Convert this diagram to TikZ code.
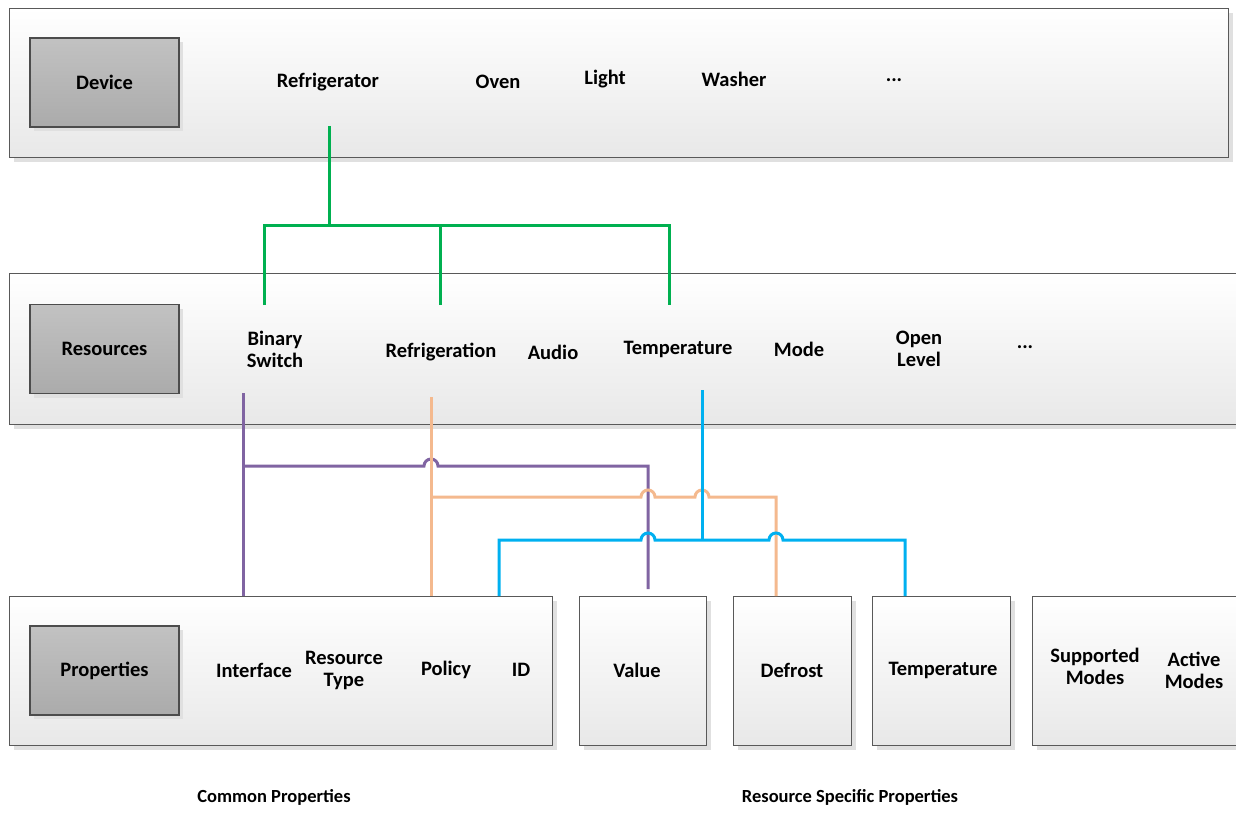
\documentclass[tikz,border=0pt]{standalone}
\usepackage{fontspec}
\setmainfont{Carlito}
\usetikzlibrary{shadows}
\definecolor{grn}{HTML}{00B050}
\definecolor{purp}{HTML}{8064A2}
\definecolor{peach}{HTML}{F4B98E}
\definecolor{sky}{HTML}{00B0F0}
\begin{document}
\begin{tikzpicture}
[x=1pt,y=-1pt,thick,%
  rowbox/.style={draw=black!65,line width=1.2pt,top color=white,bottom color=black!9,inner sep=0pt,anchor=north west,
    drop shadow={shadow xshift=4pt,shadow yshift=-4pt,fill=black!12,opacity=1}},%
  keybox/.style={draw=black!70,line width=1.2pt,top color=black!24,bottom color=black!33,minimum width=149pt,minimum height=89pt,
    drop shadow={shadow xshift=4pt,shadow yshift=-4pt,fill=black!12,opacity=1}},%
  lbl/.style={font=\fontsize{20.5}{22}\selectfont\bfseries,align=center,inner sep=0pt},%
  caption/.style={font=\fontsize{18.5}{22}\selectfont\bfseries,inner sep=0pt},%
  wire/.style={line width=3pt}]
\useasboundingbox (0,0) rectangle (1236,834);
% rows
\node[rowbox,minimum width=1219pt,minimum height=149pt] (devrow) at (9,8) {};
\node[rowbox,minimum width=1240pt,minimum height=151pt] (resrow) at (9,273) {};
\node[rowbox,minimum width=543pt,minimum height=149pt] (proprow) at (9,596) {};
\node[rowbox,minimum width=127pt,minimum height=149pt] (valbox) at (579,596) {};
\node[rowbox,minimum width=118pt,minimum height=149pt] (defbox) at (733,596) {};
\node[rowbox,minimum width=138pt,minimum height=149pt] (tempbox) at (872,596) {};
\node[rowbox,minimum width=220pt,minimum height=149pt] (modebox) at (1032,596) {};
% key boxes
\node[keybox,lbl] (device) at (104.5,82.5) {Device};
\node[keybox,lbl] (resources) at (104.5,349) {Resources};
\node[keybox,lbl] (properties) at (104.5,670.5) {Properties};
% device row
\node[lbl] (fridge) at (328,82) {Refrigerator};
\node[lbl] (oven) at (498,82) {Oven};
\node[lbl] (light) at (605,79) {Light};
\node[lbl] (washer) at (734,79) {Washer};
\node[lbl] (devmore) at (894,80) {...};
% resources row
\node[lbl] (binsw) at (275,349) {Binary\\Switch};
\node[lbl] (refrig) at (441,352) {Refrigeration};
\node[lbl] (audio) at (553,352) {Audio};
\node[lbl] (temp) at (678,349) {Temperature};
\node[lbl] (mode) at (799,349) {Mode};
\node[lbl] (openlvl) at (919,349) {Open\\Level};
\node[lbl] (resmore) at (1025,347) {...};
% properties row
\node[lbl] (iface) at (254,670) {Interface};
\node[lbl] (restype) at (344,670) {Resource\\Type};
\node[lbl] (policy) at (446,670) {Policy};
\node[lbl] (id) at (521,670) {ID};
\node[lbl] (value) at (637,670) {Value};
\node[lbl] (defrost) at (792,670) {Defrost};
\node[lbl] (tempval) at (943,670) {Temperature};
\node[lbl] (suppmodes) at (1095,666) {Supported\\Modes};
\node[lbl] (actmodes) at (1194,670) {Active\\Modes};
\node[caption] (common) at (274,797) {Common Properties};
\node[caption] (specific) at (850,797) {Resource Specific Properties};
% green: device -> resources
\coordinate (gtop) at (329,126);
\coordinate (gbus) at (329,226);
\coordinate (g1) at (264,305);
\coordinate (g2) at (440,305);
\coordinate (g3) at (669,305);
\draw[wire,grn] (gtop) -- (gbus);
\draw[wire,grn] (g1) |- (gbus) -| (g3);
\draw[wire,grn] (g2) -- (g2 |- gbus);
% purple: binary switch -> interface, value
\coordinate (ptop) at (243,393);
\coordinate (pbus) at (243,466);
\coordinate (pend) at (648,589);
\draw[wire,purp] (ptop) -- (ptop |- proprow.north);
\draw[wire,purp] (pbus) -- (424,466) arc[start angle=180,end angle=0,radius=7pt] -- (pend |- pbus) -- (pend);
% peach: refrigeration -> policy, defrost
\coordinate (otop) at (431,397);
\coordinate (obus) at (431,497);
\coordinate (oend) at (776,596);
\draw[wire,peach] (otop) -- (otop |- proprow.north);
\draw[wire,peach] (obus) -- (641,497) arc[start angle=180,end angle=0,radius=7pt]
  -- (695,497) arc[start angle=180,end angle=0,radius=7pt] -| (oend);
% blue: temperature -> id, temperature
\coordinate (btop) at (702,390);
\coordinate (bbus) at (702,540);
\coordinate (b1) at (499,596);
\coordinate (b2) at (905,596);
\draw[wire,sky] (btop) -- (bbus);
\draw[wire,sky] (b1) |- (641,540) arc[start angle=180,end angle=0,radius=7pt]
  -- (769,540) arc[start angle=180,end angle=0,radius=7pt] -| (b2);
\end{tikzpicture}
\end{document}
